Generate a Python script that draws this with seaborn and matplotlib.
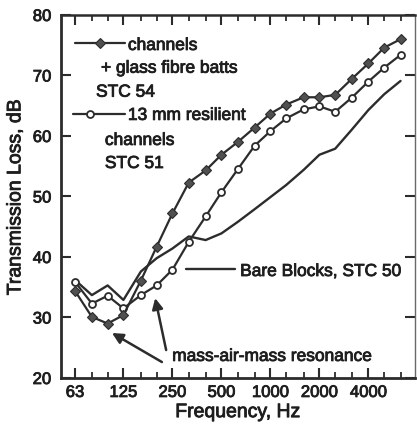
import matplotlib
matplotlib.use("Agg")
import matplotlib.pyplot as plt
import matplotlib.patheffects as pe
from matplotlib.ticker import FixedLocator, NullFormatter, FixedFormatter
import seaborn as sns
import pandas as pd

# One-third-octave band centre frequencies, Hz
freqs = [63, 80, 100, 125, 160, 200, 250, 315, 400, 500, 630, 800,
         1000, 1250, 1600, 2000, 2500, 3150, 4000, 5000, 6300]

# Transmission loss, dB
batts_tl = [34.4, 30.1, 29.0, 30.4, 36.1, 41.7, 47.2, 52.3, 54.3, 56.9,
            59.0, 61.4, 63.7, 65.2, 66.4, 66.4, 66.8, 69.4, 72.0, 74.6, 76.0]
resilient_tl = [35.9, 32.3, 33.6, 31.5, 33.7, 35.3, 37.9, 42.5, 46.7, 50.7,
                54.5, 58.4, 60.8, 62.9, 64.4, 64.9, 64.0, 66.3, 69.0, 71.3, 73.4]
bare_tl = [36.2, 33.7, 35.3, 32.9, 37.6, 39.8, 41.4, 43.4, 42.8, 43.9,
           45.8, 47.9, 49.9, 51.9, 54.4, 56.9, 57.9, 61.0, 64.3, 66.9, 69.1]

major_ticks = [63, 125, 250, 500, 1000, 2000, 4000]
major_labels = ["63", "125", "250", "500", "1000", "2000", "4000"]
y_ticks = [20, 30, 40, 50, 60, 70, 80]

INK = "#1e1e1e"
LINE = "#2c2c2c"

sns.set_style("ticks")
plt.rcParams["font.family"] = ["Liberation Sans", "DejaVu Sans"]

fig = plt.figure(figsize=(4.17, 4.32), dpi=100, facecolor="white")
ax = fig.add_axes([0.1463, 0.125, 0.8489, 0.8403])
ax.set_facecolor("white")

df = pd.DataFrame({"f": freqs, "batts": batts_tl,
                   "resilient": resilient_tl, "bare": bare_tl})

sns.lineplot(data=df, x="f", y="bare", ax=ax, color=LINE, lw=1.7)
sns.lineplot(data=df, x="f", y="resilient", ax=ax, color=LINE, lw=1.6,
             marker="o", markersize=5, markerfacecolor="white",
             markeredgecolor=LINE, markeredgewidth=1.3)
sns.lineplot(data=df, x="f", y="batts", ax=ax, color=LINE, lw=1.6,
             marker="D", markersize=5.5, markerfacecolor="#505050",
             markeredgecolor=LINE, markeredgewidth=0.8)

ax.set_xscale("log", base=2)
ax.set_xlim(51.7, 7730)
ax.set_ylim(20, 80)

minor = [f for f in freqs if f not in major_ticks]
ax.xaxis.set_major_locator(FixedLocator(major_ticks))
ax.xaxis.set_major_formatter(FixedFormatter(major_labels))
ax.xaxis.set_minor_locator(FixedLocator(minor))
ax.xaxis.set_minor_formatter(NullFormatter())
ax.yaxis.set_major_locator(FixedLocator(y_ticks))
ax.yaxis.set_minor_locator(FixedLocator([]))

ax.tick_params(axis="both", which="major", direction="in", length=7,
               width=1.5, color=LINE, labelsize=12, labelcolor=INK,
               top=True, right=True)
ax.tick_params(axis="both", which="minor", direction="in", length=4,
               width=1.3, color=LINE, top=True, right=True)
ax.tick_params(axis="x", which="major", pad=5)
ax.tick_params(axis="y", which="major", pad=7)

for side, lw in (("left", 2.0), ("bottom", 2.0), ("top", 1.8), ("right", 1.0)):
    ax.spines[side].set_visible(True)
    ax.spines[side].set_linewidth(lw)
    ax.spines[side].set_color(LINE if side != "right" else "#6a6a6a")

heavy = [pe.withStroke(linewidth=0.6, foreground=INK)]

ax.set_xlabel("Frequency, Hz", fontsize=14, color=INK, labelpad=3,
              path_effects=heavy)
ax.set_ylabel("Transmission Loss, dB", fontsize=14, color=INK, labelpad=6,
              path_effects=heavy)
for lab in ax.get_xticklabels() + ax.get_yticklabels():
    lab.set_path_effects(heavy)

# Key for the series with glass fibre batts
ax.plot([0.040, 0.181], [0.923, 0.923], transform=ax.transAxes,
        color=LINE, lw=1.6)
ax.plot([0.110], [0.923], transform=ax.transAxes, marker="D",
        markersize=5.5, markerfacecolor="#505050", markeredgecolor=LINE,
        markeredgewidth=0.8, ls="none")
# Key for the resilient channel series
ax.plot([0.034, 0.180], [0.727, 0.727], transform=ax.transAxes,
        color=LINE, lw=1.6)
ax.plot([0.082], [0.727], transform=ax.transAxes, marker="o",
        markersize=5, markerfacecolor="white", markeredgecolor=LINE,
        markeredgewidth=1.3, ls="none")
# Key for the bare block wall
ax.plot([0.353, 0.492], [0.300, 0.300], transform=ax.transAxes,
        color=LINE, lw=1.7)

txt = dict(transform=ax.transAxes, fontsize=12.5, color=INK,
           va="baseline", ha="left", path_effects=heavy)
ax.text(0.189, 0.9036, "channels", **txt)
ax.text(0.113, 0.841, "+ glass fibre batts", **txt)
ax.text(0.099, 0.775, "STC 54", **txt)
ax.text(0.189, 0.711, "13 mm resilient", **txt)
ax.text(0.124, 0.642, "channels", **txt)
ax.text(0.124, 0.5785, "STC 51", **txt)
ax.text(0.506, 0.281, "Bare Blocks, STC 50", **txt)
ax.text(0.314, 0.047, "mass-air-mass resonance", **txt)

arrow = dict(arrowstyle="-|>", color=LINE, lw=1.8, mutation_scale=16,
             shrinkA=0, shrinkB=0)
ax.annotate("", xy=(0.144, 0.124), xytext=(0.285, 0.044),
            xycoords="axes fraction", textcoords="axes fraction",
            arrowprops=arrow)
ax.annotate("", xy=(0.266, 0.220), xytext=(0.297, 0.077),
            xycoords="axes fraction", textcoords="axes fraction",
            arrowprops=arrow)

fig.savefig("out.png", dpi=100, facecolor="white")
